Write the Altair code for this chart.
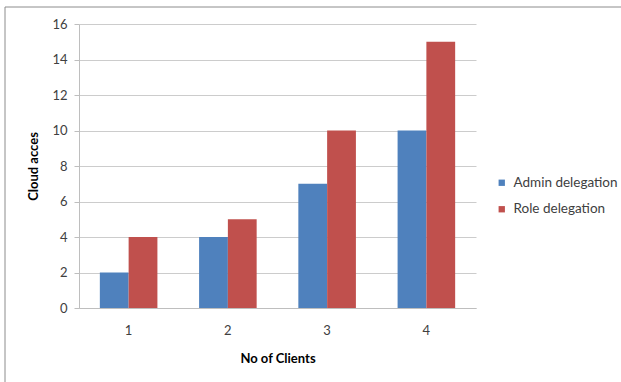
import altair as alt
import pandas as pd

clients = ["1", "2", "3", "4"]
admin = [2, 4, 7, 10]
role = [4, 5, 10, 15]
series = ["Admin delegation", "Role delegation"]
colors = ["#4F81BD", "#C0504D"]

rows = []
for c, a, r in zip(clients, admin, role):
    rows.append({"client": c, "series": series[0], "value": a})
    rows.append({"client": c, "series": series[1], "value": r})
df = pd.DataFrame(rows)

FONT = "Lato"
W, H = 397, 284

bars = alt.Chart(df).mark_bar().encode(
    x=alt.X("client:N", sort=clients,
            scale=alt.Scale(paddingInner=0.42, paddingOuter=0.21),
            axis=alt.Axis(title="No of Clients", labelAngle=0, ticks=False,
                          domainColor="#BEBEBE", labelColor="#404040",
                          labelFontSize=13, labelFont=FONT, labelPadding=16,
                          titleFont=FONT, titleFontSize=13, titleFontWeight="bold",
                          titleColor="#000000", titleY=50, titleBaseline="middle")),
    xOffset=alt.XOffset("series:N", sort=series),
    y=alt.Y("value:Q", scale=alt.Scale(domain=[0, 16]),
            axis=alt.Axis(title="Cloud acces", values=list(range(0, 17, 2)),
                          domainColor="#BEBEBE", tickColor="#BEBEBE", tickSize=5,
                          gridColor="#CCCCCC", labelColor="#404040",
                          labelFontSize=13, labelFont=FONT, labelPadding=7,
                          titleFont=FONT, titleFontSize=13, titleFontWeight="bold",
                          titleColor="#000000", titleX=-46, titleY=H / 2,
                          titleAngle=-90, titleAlign="center", titleBaseline="middle")),
    color=alt.Color("series:N", sort=series,
                    scale=alt.Scale(domain=series, range=colors),
                    legend=alt.Legend(title=None, orient="none", legendX=416, legendY=152,
                                      symbolType="square", symbolSize=40,
                                      symbolStrokeWidth=0, labelFontSize=13.5,
                                      labelFont=FONT, labelColor="#404040",
                                      rowPadding=11.5, labelOffset=5, labelLimit=200)),
)

border = pd.DataFrame({"d": [0]})
top_line = alt.Chart(border).mark_rule(color="#8C8C8C", strokeWidth=1).encode(
    x=alt.value(-74), x2=alt.value(560), y=alt.value(-17))
left_line = alt.Chart(border).mark_rule(color="#8C8C8C", strokeWidth=1).encode(
    x=alt.value(-74), y=alt.value(-17), y2=alt.value(380))

chart = alt.layer(bars, top_line, left_line).properties(
    width=W, height=H,
    padding={"left": 79, "top": 24, "right": 145, "bottom": 74},
    autosize="none",
    background="white",
).configure_view(stroke=None)

chart.save("out.html", embed_options={"renderer": "svg", "actions": False})
